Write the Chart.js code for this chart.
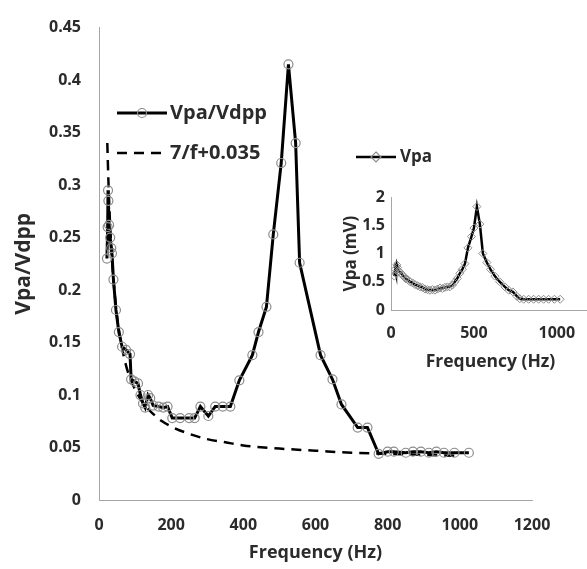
<!DOCTYPE html>
<html>
<head>
<meta charset="utf-8">
<script src="https://cdn.jsdelivr.net/npm/chart.js@4.4.1/dist/chart.umd.min.js"></script>
<style>
  body { margin: 0; background: #fff; overflow: hidden; }
  #wrap { position: relative; width: 587px; height: 569px; }
  #mainChart { position: absolute; left: 0; top: 0; }
  #insetChart { position: absolute; left: 340px; top: 140px; }
</style>
</head>
<body>
<div id="wrap">
  <canvas id="mainChart" width="587" height="569"></canvas>
  <canvas id="insetChart" width="260" height="240"></canvas>
</div>
<script>
// main chart: Vpa/Vdpp vs frequency
var freqMain = [22, 24, 25, 26, 28, 31, 34, 36, 40, 47, 55, 64, 75, 86, 89, 98, 108, 115, 122, 128, 136, 142, 150, 165, 178, 190, 203, 225, 250, 265, 281, 303, 322, 343, 364, 389, 425, 442, 464, 483, 505, 525, 545, 556, 614, 647, 672, 717, 744, 775, 800, 817, 850, 870, 892, 914, 935, 956, 985, 1025];
var vpaVdpp = [0.23, 0.26, 0.295, 0.285, 0.262, 0.25, 0.24, 0.235, 0.21, 0.181, 0.16, 0.146, 0.143, 0.139, 0.115, 0.113, 0.111, 0.1, 0.092, 0.088, 0.1, 0.097, 0.09, 0.089, 0.088, 0.089, 0.078, 0.078, 0.078, 0.078, 0.089, 0.08, 0.089, 0.089, 0.089, 0.114, 0.138, 0.16, 0.184, 0.253, 0.321, 0.415, 0.34, 0.226, 0.138, 0.115, 0.091, 0.069, 0.069, 0.044, 0.046, 0.046, 0.045, 0.046, 0.046, 0.045, 0.046, 0.045, 0.045, 0.045];

// dashed fit curve
var fitFreq = [23, 26, 30, 35, 40, 50, 60, 75, 90, 110, 130, 150, 175, 200, 250, 300, 350, 400, 500, 600, 700, 800, 900, 1000];
var fitVals = [0.34, 0.305, 0.268, 0.235, 0.21, 0.175, 0.152, 0.128, 0.113, 0.099, 0.089, 0.082, 0.075, 0.07, 0.063, 0.058, 0.055, 0.052, 0.049, 0.047, 0.045, 0.044, 0.043, 0.042];

// inset: Vpa (mV)
var insetFreq = [20, 25, 30, 35, 40, 45, 50, 60, 70, 80, 90, 100, 115, 130, 145, 160, 175, 190, 205, 220, 235, 250, 265, 280, 295, 310, 325, 340, 355, 370, 385, 400, 415, 430, 446, 464, 485, 500, 518, 536, 554, 578, 600, 626, 655, 687, 710, 735, 760, 777, 800, 830, 860, 890, 920, 950, 985, 1020];
var insetVpa = [0.6, 0.72, 0.65, 0.8, 0.75, 0.7, 0.68, 0.65, 0.62, 0.58, 0.55, 0.54, 0.5, 0.48, 0.45, 0.43, 0.41, 0.4, 0.37, 0.36, 0.35, 0.36, 0.35, 0.37, 0.39, 0.38, 0.4, 0.41, 0.41, 0.44, 0.5, 0.56, 0.65, 0.72, 0.82, 1.1, 1.3, 1.45, 1.83, 1.52, 1.0, 0.84, 0.72, 0.6, 0.5, 0.41, 0.35, 0.32, 0.24, 0.2, 0.19, 0.19, 0.19, 0.19, 0.19, 0.19, 0.19, 0.19];

var insetXTicks = [0, 500, 1000];
var insetYTicks = [0, 0.5, 1, 1.5, 2];

var mainLabel = 'Vpa/Vdpp';
var fitLabel = '7/f+0.035';
var insetLabel = 'Vpa';

var FONT = '"Open Sans", "DejaVu Sans", sans-serif';
var TXT = '#2b2b2b';
var AXIS = '#a6a6a6';
var MARK = '#8c8c8c';

function toPts(xs, ys) {
    return xs.map(function (x, i) { return { x: x, y: ys[i] }; });
}
function plainNum(v) { return String(+Number(v).toFixed(2)); }

// hand-placed legend entries, like the excel one
var legendPlugin = {
    id: 'floatLegend',
    afterDraw: function (chart) {
        var ctx = chart.ctx;
        ctx.save();
        ctx.textBaseline = 'middle';
        ctx.fillStyle = TXT;

        // Vpa/Vdpp
        ctx.strokeStyle = '#000';
        ctx.lineWidth = 3;
        ctx.setLineDash([]);
        ctx.beginPath(); ctx.moveTo(117, 113); ctx.lineTo(167, 113); ctx.stroke();
        ctx.lineWidth = 1.2;
        ctx.strokeStyle = MARK;
        ctx.beginPath(); ctx.arc(142, 113, 4.5, 0, Math.PI * 2); ctx.stroke();
        ctx.font = 'bold 20px ' + FONT;
        ctx.fillText(mainLabel, 170, 113);

        // 7/f+0.035
        ctx.strokeStyle = '#000';
        ctx.lineWidth = 2.5;
        ctx.setLineDash([10, 7]);
        ctx.beginPath(); ctx.moveTo(117, 153); ctx.lineTo(167, 153); ctx.stroke();
        ctx.setLineDash([]);
        ctx.fillText(fitLabel, 170, 153);

        // inset legend Vpa
        ctx.strokeStyle = '#000';
        ctx.lineWidth = 2.5;
        ctx.beginPath(); ctx.moveTo(356, 157); ctx.lineTo(396, 157); ctx.stroke();
        ctx.lineWidth = 1.2;
        ctx.strokeStyle = MARK;
        ctx.beginPath();
        ctx.moveTo(376, 152); ctx.lineTo(381, 157); ctx.lineTo(376, 162); ctx.lineTo(371, 157); ctx.closePath();
        ctx.stroke();
        ctx.font = 'bold 17px ' + FONT;
        ctx.fillText(insetLabel, 400, 157);
        ctx.restore();
    }
};

Chart.defaults.font.family = FONT;
Chart.defaults.color = TXT;

new Chart(document.getElementById('mainChart'), {
    type: 'line',
    data: {
        datasets: [{
            label: mainLabel,
            data: toPts(freqMain, vpaVdpp),
            borderColor: '#000',
            borderWidth: 3,
            pointRadius: 4.5,
            pointBorderWidth: 1.2,
            pointBorderColor: MARK,
            pointBackgroundColor: 'rgba(255,255,255,0)',
            tension: 0,
            order: 0
        }, {
            label: fitLabel,
            data: toPts(fitFreq, fitVals),
            borderColor: '#000',
            borderWidth: 2.5,
            borderDash: [10, 7],
            pointRadius: 0,
            cubicInterpolationMode: 'monotone',
            order: 1
        }]
    },
    options: {
        responsive: false,
        animation: false,
        layout: { padding: { top: 22, right: 55, bottom: 0, left: 0 } },
        plugins: { legend: { display: false }, tooltip: { enabled: false } },
        scales: {
            x: {
                type: 'linear', min: 0, max: 1200,
                ticks: { stepSize: 200, padding: 16, font: { size: 16, weight: 'bold' }, callback: plainNum },
                grid: { display: false, drawTicks: false },
                border: { color: AXIS, width: 1 },
                title: { display: true, text: 'Frequency (Hz)', font: { size: 18, weight: 'bold' }, padding: { top: 0, bottom: 5 } },
                afterFit: function (s) { s.height = 69; }
            },
            y: {
                min: 0, max: 0.45,
                ticks: { stepSize: 0.05, padding: 18, font: { size: 16, weight: 'bold' }, callback: plainNum },
                grid: { display: false, drawTicks: false },
                border: { color: AXIS, width: 1 },
                title: { display: true, text: 'Vpa/Vdpp', font: { size: 21, weight: 'bold' }, padding: { top: 11, bottom: 0 } },
                afterFit: function (s) { s.width = 99; }
            }
        }
    },
    plugins: [legendPlugin]
});

new Chart(document.getElementById('insetChart'), {
    type: 'line',
    data: {
        datasets: [{
            label: insetLabel,
            data: toPts(insetFreq, insetVpa),
            borderColor: '#000',
            borderWidth: 2.5,
            pointStyle: 'rectRot',
            pointRadius: 4,
            pointBorderWidth: 1,
            pointBorderColor: MARK,
            pointBackgroundColor: 'rgba(255,255,255,0)',
            tension: 0
        }]
    },
    options: {
        responsive: false,
        animation: false,
        layout: { padding: { top: 57, right: 10, bottom: 0, left: 0 } },
        plugins: { legend: { display: false }, tooltip: { enabled: false } },
        scales: {
            x: {
                type: 'linear', min: 0, max: 1200,
                afterBuildTicks: function (s) { s.ticks = insetXTicks.map(function (v) { return { value: v }; }); },
                ticks: { autoSkip: false, maxRotation: 0, padding: 14, font: { size: 16, weight: 'bold' }, callback: plainNum },
                grid: { display: false, drawTicks: false },
                border: { color: AXIS, width: 1 },
                title: { display: true, text: 'Frequency (Hz)', font: { size: 17.5, weight: 'bold' }, padding: { top: 0, bottom: 7 } },
                afterFit: function (s) { s.height = 70; }
            },
            y: {
                min: 0, max: 2,
                afterBuildTicks: function (s) { s.ticks = insetYTicks.map(function (v) { return { value: v }; }); },
                ticks: { autoSkip: false, padding: 6, font: { size: 16, weight: 'bold' }, callback: plainNum },
                grid: { display: false, drawTicks: false },
                border: { color: AXIS, width: 1 },
                title: { display: true, text: 'Vpa (mV)', font: { size: 17, weight: 'bold' }, padding: { top: 1, bottom: 0 } },
                afterFit: function (s) { s.width = 51; }
            }
        }
    }
});
</script>
</body>
</html>
